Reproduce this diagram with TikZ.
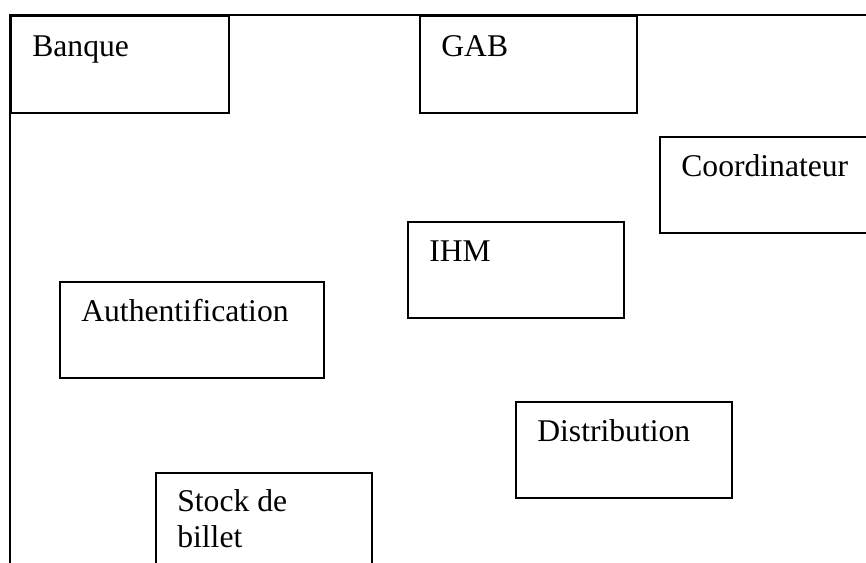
\documentclass[tikz,border=0pt]{standalone}
\usepackage{fontspec}
\setmainfont{Liberation Serif}
\usetikzlibrary{positioning}

\begin{document}
\begin{tikzpicture}[x=0.02cm, y=-0.02cm,
    bx/.style={draw, line width=1.1pt, inner sep=0pt, anchor=north west},
    lb/.style={anchor=base west, inner sep=0pt, align=left,
               font=\fontsize{18}{21}\selectfont}]
  \useasboundingbox (0,0) rectangle (866,563);
  \clip (0,0) rectangle (866,563);
  % outer frame
  \draw[line width=1.1pt] (880,15) -- (10,15) -- (10,580);
  % boxes: name/x/y/width/height/baseline of last line/text
  \foreach \n/\x/\y/\w/\h/\b/\t in {banque/10/15/218/97/42/Banque,
                                    gab/419/15/217/97/42/GAB,
                                    coord/659/136/230/96/41/Coordinateur,
                                    ihm/407/221/216/96/41/IHM,
                                    auth/59/281/264/96/41/Authentification,
                                    distrib/515/401/216/96/41/Distribution,
                                    stock/155/472/216/110/76/{Stock de\\billet}}{
    \node[bx, minimum width=\w*0.02cm, minimum height=\h*0.02cm] (\n) at (\x,\y) {};
    \node[lb] (\n-t) at ([shift={(22,\b)}]\n.north west) {\t};}
\end{tikzpicture}
\end{document}
